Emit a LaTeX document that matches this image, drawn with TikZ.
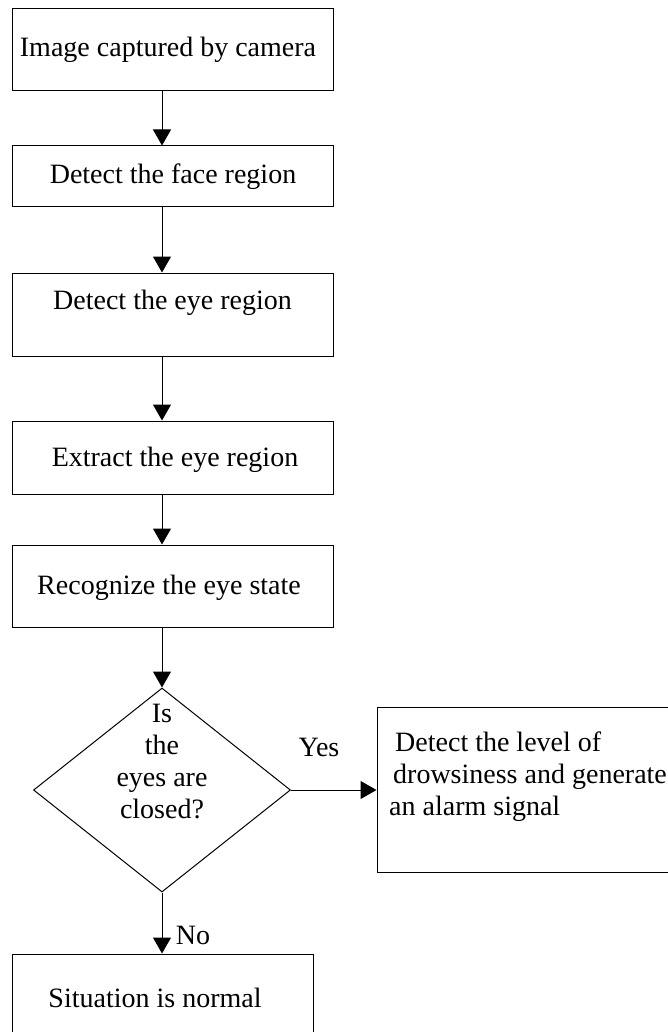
\documentclass[tikz,border=0pt]{standalone}
\usepackage{fontspec}
\setmainfont{Liberation Serif}
\usetikzlibrary{arrows.meta,shapes.geometric}
\tikzset{
  box/.style={draw, line width=1pt, rectangle, inner sep=0pt},
  txt/.style={font=\fontsize{28}{32}\selectfont, inner sep=0pt},
  arr/.style={line width=1pt, -{Triangle[width=18pt,length=16pt]}},
  ln/.style={line width=1pt}
}
\begin{document}
\begin{tikzpicture}[x=1pt,y=-1pt]
\useasboundingbox (0,0) rectangle (667,1032);
\fill[white] (0,0) rectangle (667,1032);
% boxes
\node[box, minimum width=321pt, minimum height=82pt] (b1) at (172.5,50) {};
\node[box, minimum width=321pt, minimum height=61pt] (b2) at (172.5,176.5) {};
\node[box, minimum width=321pt, minimum height=83pt] (b3) at (172.5,314.5) {};
\node[box, minimum width=321pt, minimum height=73pt] (b4) at (172.5,457.5) {};
\node[box, minimum width=321pt, minimum height=82pt] (b5) at (172.5,586) {};
\node[box, diamond, minimum width=257pt, minimum height=204pt] (d) at (162,790) {};
\node[box, minimum width=313pt, minimum height=165pt] (b6) at (533.5,789.5) {};
\node[box, minimum width=301pt, minimum height=106pt] (b7) at (162.5,1007) {};
% texts
\node[txt] (t1) at (168,50) {Image captured by camera};
\node[txt] (t2) at (173,177) {Detect the face region};
\node[txt] (t3) at (172.5,303) {Detect the eye region};
\node[txt] (t4) at (175,460) {Extract the eye region};
\node[txt] (t5) at (169,588) {Recognize the eye state};
\node[txt, align=center] (td) at (162,762) {Is\\the\\eyes are\\closed?};
\node[txt, align=left, anchor=west] (t6) at (389,777) {\hspace*{6pt}Detect the level of\\\hspace*{4pt}drowsiness and generate\\an alarm signal};
\node[txt] (t7) at (155,998) {Situation is normal};
% connectors
\draw[arr] (b1.south -| d.north) -- (b2.north -| d.north);
\draw[arr] (b2.south -| d.north) -- (b3.north -| d.north);
\draw[arr] (b3.south -| d.north) -- (b4.north -| d.north);
\draw[arr] (b4.south -| d.north) -- (b5.north -| d.north);
\draw[arr] (b5.south -| d.north) -- (d.north);
\draw[arr] (d.east) -- (b6.west |- d.east);
\draw[arr] (d.south) -- (b7.north -| d.south);
% labels
\node[txt] (yes) at (319,747) {Yes};
\node[txt] (no) at (193,935) {No};
\end{tikzpicture}
\end{document}
